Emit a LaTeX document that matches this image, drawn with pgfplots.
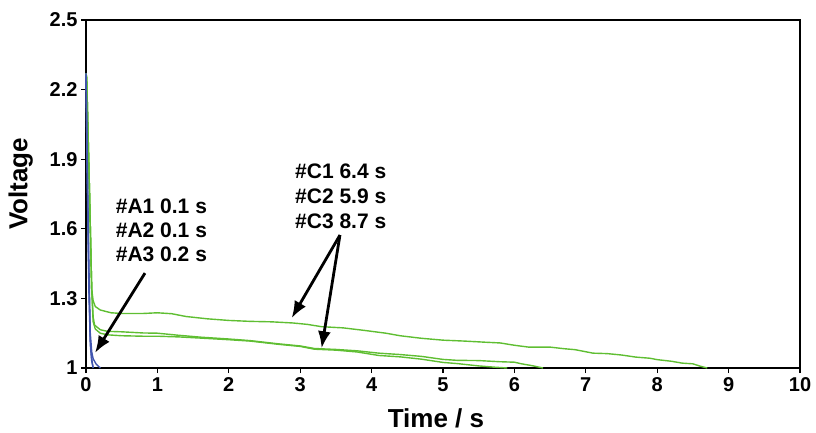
\documentclass[border=0pt]{standalone}
\usepackage{pgfplots}
\pgfplotsset{compat=1.18}
\usepackage{fontspec}
\setmainfont{Liberation Sans}
\usetikzlibrary{arrows.meta}
\definecolor{cgreen}{RGB}{95,190,50}
\definecolor{cblue}{RGB}{65,85,175}
\begin{document}
\begin{tikzpicture}
\begin{axis}[
  scale only axis, width=714pt, height=348pt,
  xmin=0, xmax=10, ymin=1, ymax=2.5,
  xtick={0,1,...,10}, ytick={1,1.3,1.6,1.9,2.2,2.5},
  xtick pos=left, ytick pos=left, tick align=outside,
  major tick length=5pt,
  every tick/.style={black, line width=1.2pt},
  axis line style={black, line width=2.4pt},
  /pgf/number format/assume math mode=true,
  tick label style={font=\fontsize{20}{22}\selectfont\bfseries},
  xticklabel style={yshift=-1pt},
  xlabel={Time / s}, ylabel={Voltage},
  label style={font=\fontsize{26}{28}\selectfont\bfseries},
  xlabel style={xshift=-7pt, yshift=-10pt},
  ylabel style={yshift=10pt, xshift=10pt},
  clip=false,
]
% C3 (ends 8.7 s)
\addplot[cgreen, line width=1.4pt] coordinates {
(0,2.27) (0.01,2.25) (0.05,1.75) (0.08,1.34) (0.1,1.29) (0.13,1.265) (0.2,1.25) (0.35,1.238) (0.5,1.235) (0.8,1.235) (1.0,1.238) (1.2,1.234) (1.4,1.222) (1.7,1.212) (2.0,1.205) (2.3,1.201) (2.6,1.199) (2.9,1.194) (3.1,1.188) (3.3,1.178) (3.6,1.173) (3.9,1.162) (4.2,1.150) (4.4,1.139) (4.7,1.128) (5.0,1.120) (5.3,1.116) (5.6,1.111) (5.8,1.108) (6.0,1.098) (6.2,1.090) (6.5,1.090) (6.7,1.083) (6.85,1.079) (7.0,1.070) (7.1,1.064) (7.3,1.062) (7.5,1.056) (7.7,1.047) (7.9,1.042) (8.0,1.036) (8.2,1.029) (8.35,1.021) (8.5,1.018) (8.6,1.008) (8.7,1.0)};
% C1 (ends 6.4 s)
\addplot[cgreen, line width=1.4pt] coordinates {
(0,2.27) (0.01,2.25) (0.05,1.75) (0.08,1.34) (0.1,1.22) (0.12,1.185) (0.2,1.165) (0.3,1.158) (0.5,1.156) (0.8,1.151) (1.0,1.150) (1.3,1.141) (1.6,1.133) (2.0,1.125) (2.3,1.118) (2.7,1.104) (3.0,1.095) (3.2,1.084) (3.5,1.080) (3.8,1.074) (4.1,1.064) (4.4,1.058) (4.7,1.050) (5.0,1.037) (5.2,1.033) (5.5,1.032) (5.8,1.027) (6.0,1.025) (6.1,1.018) (6.25,1.010) (6.4,1.0)};
% C2 (ends 5.9 s)
\addplot[cgreen, line width=1.4pt] coordinates {
(0,2.27) (0.01,2.25) (0.05,1.75) (0.08,1.34) (0.1,1.2) (0.13,1.168) (0.2,1.15) (0.3,1.143) (0.5,1.139) (0.8,1.137) (1.0,1.137) (1.3,1.134) (1.6,1.129) (2.0,1.122) (2.3,1.116) (2.7,1.102) (3.0,1.093) (3.2,1.081) (3.5,1.077) (3.8,1.069) (4.1,1.054) (4.4,1.048) (4.7,1.038) (5.0,1.024) (5.2,1.019) (5.5,1.009) (5.7,1.004) (5.9,1.0)};
% A1, A2, A3
\addplot[cblue, line width=1.4pt] coordinates {
(0,2.27) (0.02,1.8) (0.04,1.38) (0.06,1.12) (0.08,1.04) (0.1,1.0)};
\addplot[cblue, line width=1.4pt] coordinates {
(0,2.26) (0.02,1.76) (0.04,1.34) (0.06,1.1) (0.08,1.03) (0.1,1.0)};
\addplot[cblue, line width=1.4pt] coordinates {
(0,2.27) (0.02,1.85) (0.04,1.45) (0.06,1.15) (0.08,1.07) (0.1,1.04) (0.14,1.018) (0.2,1.0)};

\draw[line width=2.8pt, -{Latex[length=17pt,width=13pt]}] (axis cs:0.826,1.409) -- (axis cs:0.126,1.065);
\draw[line width=2.8pt, -{Latex[length=17pt,width=13pt]}] (axis cs:3.557,1.573) -- (axis cs:2.88,1.215);
\draw[line width=2.8pt, -{Latex[length=17pt,width=13pt]}] (axis cs:3.557,1.573) -- (axis cs:3.30,1.085);

\begin{scope}[every node/.style={anchor=base west, inner sep=0pt, font=\fontsize{21}{22}\selectfont\bfseries}]
\node at (axis cs:0.416,1.667) {\#A1 0.1 s};
\node at (axis cs:0.416,1.563) {\#A2 0.1 s};
\node at (axis cs:0.416,1.458) {\#A3 0.2 s};
\node at (axis cs:2.927,1.818) {\#C1 6.4 s};
\node at (axis cs:2.927,1.710) {\#C2 5.9 s};
\node at (axis cs:2.927,1.602) {\#C3 8.7 s};
\end{scope}
\end{axis}
\pgfresetboundingbox
\path (current axis.south west) ++(-86pt,-65pt) rectangle ++(816pt,433pt);
\end{tikzpicture}
\end{document}
